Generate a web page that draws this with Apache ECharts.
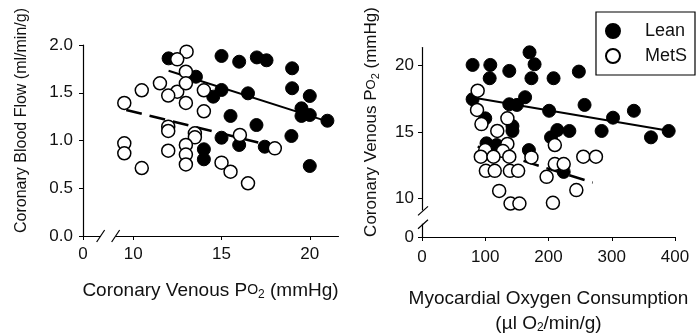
<!DOCTYPE html>
<html><head><meta charset="utf-8">
<script src="https://cdn.jsdelivr.net/npm/echarts@6/dist/echarts.min.js"></script>
<style>html,body{margin:0;padding:0;background:#fff}#c{width:696px;height:335px}</style>
</head><body><div id="c"></div>
<script>
const FONT = "'Liberation Sans', Arial, Helvetica, sans-serif";

// ---- Left panel: coronary venous PO2 (mmHg) vs coronary blood flow (ml/min/g)
const leanFlow = [
  [12.0,1.86],[15.0,1.885],[16.0,1.825],[17.0,1.87],[17.55,1.84],[19.0,1.756],
  [13.55,1.668],[19.0,1.547],[15.0,1.529],[14.53,1.459],[16.5,1.494],[20.0,1.466],
  [19.53,1.337],[20.0,1.267],[19.53,1.257],[21.0,1.207],[15.51,1.257],[16.98,1.162],
  [18.96,1.047],[15.0,1.029],[16.0,0.953],[17.45,0.935],[14.0,0.908],[14.0,0.803],[20.0,0.733]
];
const metsFlow = [
  [13.02,1.93],[12.49,1.85],[12.98,1.72],[11.51,1.599],[10.48,1.526],[12.49,1.511],
  [11.98,1.471],[12.98,1.599],[14.0,1.526],[9.49,1.393],[12.98,1.393],[14.0,1.306],
  [11.98,1.145],[11.98,1.10],[13.49,1.075],[13.49,1.033],[16.04,1.058],[18.02,0.918],
  [9.49,0.97],[9.49,0.866],[12.98,0.953],[12.98,0.853],[11.98,0.893],[12.98,0.749],
  [10.48,0.712],[15.0,0.768],[15.51,0.673],[16.5,0.552]
];
const leanFlowFit = [[12.0,1.73],[21.0,1.20]];
const metsFlowFit = [[9.6,1.32],[17.7,0.95]];

// ---- Right panel: myocardial oxygen consumption (µl O2/min/g) vs coronary venous PO2 (mmHg)
const leanVo2 = [
  [170,21.0],[80,20.05],[108,20.05],[178,20.1],[138,19.6],[107,19.05],[173,19.05],
  [208,19.05],[248,19.55],[80,17.47],[163,17.62],[138,17.09],[150,17.04],[201,16.6],
  [257,17.04],[302,16.08],[335,16.6],[100,16.03],[143,15.45],[143,15.08],[214,15.15],
  [233,15.08],[284,15.08],[204,14.6],[362,14.6],[390,15.08],[102,14.15],[118,14.02],
  [169,13.64],[224,12.0]
];
const metsVo2 = [
  [88,18.11],[87,16.66],[94,15.6],[135,16.03],[119,15.08],[135,14.1],[210,14.02],
  [100,13.64],[128,13.57],[93,13.14],[113,13.14],[138,13.14],[173,13.09],[255,13.14],
  [275,13.14],[101,12.08],[115,12.08],[139,12.08],[152,12.08],[210,12.59],[224,12.59],
  [197,11.63],[122,10.57],[244,10.63],[140,9.62],[154,9.62],[207,9.67]
];
const leanVo2Fit = [[80,17.6],[390,15.1]];
const metsVo2Fit = [[88,13.9],[270,11.2]];

// ---- Tick labels
const leftXTicks = [0,10,15,20];
const leftYTicks = [0,0.5,1.0,1.5,2.0];
const rightXTicks = [0,100,200,300,400];
const rightYTicks = [0,10,15,20];

const names = ['Lean','MetS'];

const chart = echarts.init(document.getElementById('c'), null, {renderer:'canvas'});

const axisCommon = {
  type: 'value',
  axisLine: {show: true, onZero: false, lineStyle: {color: '#000', width: 1.2}},
  axisTick: {show: true, length: 4, lineStyle: {color: '#000', width: 1}},
  splitLine: {show: false},
  axisLabel: {color: '#111', fontSize: 17, fontFamily: FONT},
  breakArea: {show: false}
};

const filledStyle = {color: '#000', borderColor: '#000', borderWidth: 1, opacity: 1};
const openStyle = {color: '#fff', borderColor: '#000', borderWidth: 1.5, opacity: 1};

chart.setOption({
  animation: false,
  backgroundColor: '#fff',
  textStyle: {fontFamily: FONT},
  grid: [
    {left: 83, top: 45, width: 255, height: 191, containLabel: false, outerBoundsMode: 'none'},
    {left: 422, top: 47, width: 253, height: 190, containLabel: false, outerBoundsMode: 'none'}
  ],
  legend: {
    data: names,
    orient: 'vertical',
    right: 1, top: 12,
    padding: [10, 8, 10, 9],
    itemGap: 7,
    itemWidth: 14, itemHeight: 14,
    icon: 'circle',
    borderColor: '#000', borderWidth: 1.2,
    textStyle: {fontSize: 18, fontFamily: FONT, color: '#111', padding: [0,0,0,20]}
  },
  xAxis: [
    Object.assign({}, axisCommon, {
      gridIndex: 0, min: 0, max: 21.6,
      breaks: [{start: 1, end: 9, gap: 0.85}],
      axisLabel: Object.assign({}, axisCommon.axisLabel, {customValues: leftXTicks, margin: 10}),
      axisTick: Object.assign({}, axisCommon.axisTick, {customValues: leftXTicks}),
      name: 'Coronary Venous P{sc|O}{sub|2} (mmHg)',
      nameLocation: 'middle', nameGap: 44,
      nameTextStyle: {color: '#111', fontFamily: FONT, fontSize: 19, rich: {sc:{fontSize:14,fontFamily:FONT,color:'#111'}, sub:{fontSize:12,fontFamily:FONT,color:'#111',padding:[9,0,0,0]}}}
    }),
    Object.assign({}, axisCommon, {
      gridIndex: 1, min: 0, max: 400, interval: 100,
      axisLabel: Object.assign({}, axisCommon.axisLabel, {customValues: rightXTicks, margin: 12}),
      axisTick: Object.assign({}, axisCommon.axisTick, {customValues: rightXTicks}),
      name: 'Myocardial Oxygen Consumption\n(\u00b5l O{sub|2}/min/g)',
      nameLocation: 'middle', nameGap: 49,
      nameTextStyle: {color: '#111', fontFamily: FONT, fontSize: 19, lineHeight: 25, rich: {sub:{fontSize:12,fontFamily:FONT,color:'#111',padding:[9,0,0,0]}}}
    })
  ],
  yAxis: [
    Object.assign({}, axisCommon, {
      gridIndex: 0, min: 0, max: 2, interval: 0.5,
      axisLabel: Object.assign({}, axisCommon.axisLabel, {customValues: leftYTicks, margin: 10, formatter: v => Number(v).toFixed(1)}),
      axisTick: Object.assign({}, axisCommon.axisTick, {customValues: leftYTicks}),
      name: 'Coronary Blood Flow (ml/min/g)',
      nameLocation: 'middle', nameGap: 53, nameRotate: 90,
      nameTextStyle: {color: '#111', fontFamily: FONT, fontSize: 16, padding: [0, 0, 0, 40]}
    }),
    Object.assign({}, axisCommon, {
      gridIndex: 1, min: 0, max: 21.4,
      breaks: [{start: 1, end: 9.1, gap: 1}],
      axisLabel: Object.assign({}, axisCommon.axisLabel, {customValues: rightYTicks, margin: 8}),
      axisTick: Object.assign({}, axisCommon.axisTick, {customValues: rightYTicks}),
      name: 'Coronary Venous P{sc|O}{sub|2} (mmHg)',
      nameLocation: 'middle', nameGap: 41, nameRotate: 90,
      nameTextStyle: {color: '#111', fontFamily: FONT, fontSize: 17, padding: [0, 0, 0, 40], rich: {sc:{fontSize:13,fontFamily:FONT,color:'#111'}, sub:{fontSize:11,fontFamily:FONT,color:'#111',padding:[8,0,0,0]}}}
    })
  ],
  series: [
    {type:'line', name:'Lean fit L', xAxisIndex:0, yAxisIndex:0, data: leanFlowFit, showSymbol:false, silent:true, z:1,
     lineStyle:{color:'#000', width:2, type:'solid'}},
    {type:'line', name:'MetS fit L', xAxisIndex:0, yAxisIndex:0, data: metsFlowFit, showSymbol:false, silent:true, z:1,
     lineStyle:{color:'#000', width:2.5, type:[16,8]}},
    {type:'line', name:'Lean fit R', xAxisIndex:1, yAxisIndex:1, data: leanVo2Fit, showSymbol:false, silent:true, z:1,
     lineStyle:{color:'#000', width:2, type:'solid'}},
    {type:'line', name:'MetS fit R', xAxisIndex:1, yAxisIndex:1, data: metsVo2Fit, showSymbol:false, silent:true, z:1,
     lineStyle:{color:'#000', width:2.5, type:[16,8]}},
    {type:'scatter', name:'Lean', xAxisIndex:0, yAxisIndex:0, data: leanFlow, symbol:'circle', symbolSize:13, itemStyle: filledStyle, z:2},
    {type:'scatter', name:'Lean', xAxisIndex:1, yAxisIndex:1, data: leanVo2, symbol:'circle', symbolSize:13, itemStyle: filledStyle, z:2},
    {type:'scatter', name:'MetS', xAxisIndex:0, yAxisIndex:0, data: metsFlow, symbol:'circle', symbolSize:13, itemStyle: openStyle, z:3},
    {type:'scatter', name:'MetS', xAxisIndex:1, yAxisIndex:1, data: metsVo2, symbol:'circle', symbolSize:13, itemStyle: openStyle, z:3}
  ]
});

// axis-break marks, positioned from the axes' own scales
function drawBreaks() {
  const g = [];
  const lx1 = chart.convertToPixel({xAxisIndex: 0}, 1);
  const lx2 = chart.convertToPixel({xAxisIndex: 0}, 9);
  const ly0 = chart.convertToPixel({yAxisIndex: 0}, 0);
  const ry1 = chart.convertToPixel({yAxisIndex: 1}, 1);
  const ry2 = chart.convertToPixel({yAxisIndex: 1}, 9.1);
  const rx0 = chart.convertToPixel({xAxisIndex: 1}, 0);
  const ls = {stroke: '#000', lineWidth: 1.2};
  g.push({type:'rect', shape:{x: lx1, y: ly0-2, width: lx2-lx1, height: 4}, style:{fill:'#fff'}, z: 50});
  g.push({type:'rect', shape:{x: rx0-2, y: ry2, width: 4, height: ry1-ry2}, style:{fill:'#fff'}, z: 50});
  [lx1, lx2].forEach(x => g.push({type:'line', shape:{x1:x-4, y1:ly0+6, x2:x+4, y2:ly0-6}, style: ls, z: 51}));
  [ry1, ry2].forEach(y => g.push({type:'line', shape:{x1:rx0-4, y1:y+5, x2:rx0+6, y2:y-4}, style: ls, z: 51}));
  chart.setOption({graphic: g});
}
drawBreaks();
</script>
</body></html>
